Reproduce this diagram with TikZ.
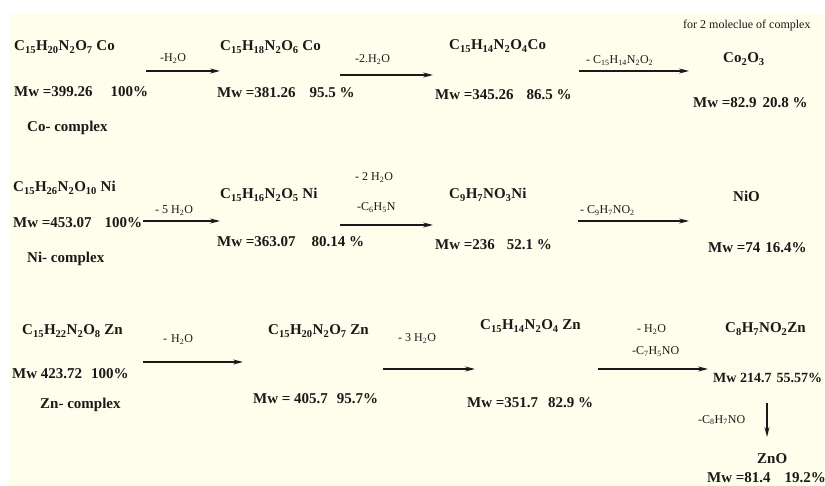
\documentclass[tikz,border=0pt]{standalone}
\usepackage{fontspec}
\setmainfont{Liberation Serif}
\usetikzlibrary{arrows.meta}
\newcommand\chs[1]{\textsubscript{#1}}
\definecolor{bgc}{RGB}{255,253,236}
\definecolor{ink}{RGB}{25,25,25}
\tikzset{
  big/.style={font=\bfseries\fontsize{15}{18}\selectfont, inner sep=0pt, anchor=base west, text=ink},
  lbl/.style={font=\fontsize{12}{14}\selectfont, inner sep=0pt, anchor=base west, text=ink},
  arr/.style={draw=ink, line width=1.3pt, -{Stealth[length=10pt,width=5pt]}}
}
\begin{document}
\begin{tikzpicture}[x=1pt,y=-1pt]
\useasboundingbox (0,0) rectangle (825,486);
\fill[bgc] (9,14) rectangle (825,486);
% ---------- Co row ----------
\node[big] (co1) at (14,51) {C\chs{15}H\chs{20}N\chs{2}O\chs{7} Co};
\node[big] (co1m) at (14,97) {Mw =399.26\hspace{18pt}100\%};
\node[big] (co1c) at (27,132) {Co- complex};
\node[lbl] (co1l) at (160,62) {-H\chs{2}O};
\node[big] (co2) at (220,51) {C\chs{15}H\chs{18}N\chs{2}O\chs{6} Co};
\node[big] (co2m) at (217,98) {Mw =381.26\hspace{14pt}95.5 \%};
\node[lbl] (co2l) at (355,63) {-2.H\chs{2}O};
\node[big] (co3) at (449,50) {C\chs{15}H\chs{14}N\chs{2}O\chs{4}Co};
\node[big] (co3m) at (435,100) {Mw =345.26\hspace{13pt}86.5 \%};
\node[lbl] (co3l) at (586,64) {- C\chs{15}H\chs{14}N\chs{2}O\chs{2}};
\node[lbl] (co4n) at (683,29) {for 2 moleclue of complex};
\node[big] (co4) at (723,63) {Co\chs{2}O\chs{3}};
\node[big] (co4m) at (693,108) {Mw =82.9\hspace{6pt}20.8 \%};
\coordinate (ca1s) at (146,71); \coordinate (ca1e) at (220,71);
\coordinate (ca2s) at (340,75); \coordinate (ca2e) at (433,75);
\coordinate (ca3s) at (579,71); \coordinate (ca3e) at (689,71);
\draw[arr] (ca1s) -- (ca1e);
\draw[arr] (ca2s) -- (ca2e);
\draw[arr] (ca3s) -- (ca3e);
% ---------- Ni row ----------
\node[big] (ni1) at (13,192) {C\chs{15}H\chs{26}N\chs{2}O\chs{10} Ni};
\node[big] (ni1m) at (13,228) {Mw =453.07\hspace{13pt}100\%};
\node[big] (ni1c) at (27,263) {Ni- complex};
\node[lbl] (ni1l) at (155,214) {- 5 H\chs{2}O};
\node[big] (ni2) at (220,199) {C\chs{15}H\chs{16}N\chs{2}O\chs{5} Ni};
\node[big] (ni2m) at (217,247) {Mw =363.07\hspace{16pt}80.14 \%};
\node[lbl] (ni2l) at (355,181) {- 2 H\chs{2}O};
\node[lbl] (ni2k) at (357,211) {-C\chs{6}H\chs{5}N};
\node[big] (ni3) at (449,199) {C\chs{9}H\chs{7}NO\chs{3}Ni};
\node[big] (ni3m) at (435,250) {Mw =236\hspace{12pt}52.1 \%};
\node[lbl] (ni3l) at (580,214) {- C\chs{9}H\chs{7}NO\chs{2}};
\node[big] (ni4) at (733,202) {NiO};
\node[big] (ni4m) at (708,253) {Mw =74\hspace{5pt}16.4\%};
\coordinate (na1s) at (143,221); \coordinate (na1e) at (220,221);
\coordinate (na2s) at (340,225); \coordinate (na2e) at (433,225);
\coordinate (na3s) at (578,221); \coordinate (na3e) at (689,221);
\draw[arr] (na1s) -- (na1e);
\draw[arr] (na2s) -- (na2e);
\draw[arr] (na3s) -- (na3e);
% ---------- Zn row ----------
\node[big] (zn1) at (22,335) {C\chs{15}H\chs{22}N\chs{2}O\chs{8} Zn};
\node[big] (zn1m) at (12,378) {Mw 423.72\hspace{9pt}100\%};
\node[big] (zn1c) at (40,408) {Zn- complex};
\node[lbl] (zn1l) at (163,343) {-\hspace{4pt}H\chs{2}O};
\node[big] (zn2) at (268,335) {C\chs{15}H\chs{20}N\chs{2}O\chs{7} Zn};
\node[big] (zn2m) at (253,403) {Mw = 405.7\hspace{9pt}95.7\%};
\node[lbl] (zn2l) at (398,342) {- 3 H\chs{2}O};
\node[big] (zn3) at (480,330) {C\chs{15}H\chs{14}N\chs{2}O\chs{4} Zn};
\node[big] (zn3m) at (467,407) {Mw =351.7\hspace{10pt}82.9 \%};
\node[lbl] (zn3l) at (637,333) {- H\chs{2}O};
\node[lbl] (zn3k) at (632,355) {-C\chs{7}H\chs{5}NO};
\node[big] (zn4) at (725,333) {C\chs{8}H\chs{7}NO\chs{2}Zn};
\node[big, font=\bfseries\fontsize{14}{17}\selectfont] (zn4m) at (713,382) {Mw 214.7\hspace{5pt}55.57\%};
\node[lbl] (zn4l) at (698,423) {-C\chs{8}H\chs{7}NO};
\node[big] (zn5) at (757,463) {ZnO};
\node[big] (zn5m) at (707,482) {Mw =81.4\hspace{14pt}19.2\%};
\coordinate (za1s) at (143,362); \coordinate (za1e) at (243,362);
\coordinate (za2s) at (383,369); \coordinate (za2e) at (475,369);
\coordinate (za3s) at (598,369); \coordinate (za3e) at (708,369);
\coordinate (za4s) at (767,403); \coordinate (za4e) at (767,437);
\draw[arr] (za1s) -- (za1e);
\draw[arr] (za2s) -- (za2e);
\draw[arr] (za3s) -- (za3e);
\draw[arr] (za4s) -- (za4e);
\end{tikzpicture}
\end{document}
